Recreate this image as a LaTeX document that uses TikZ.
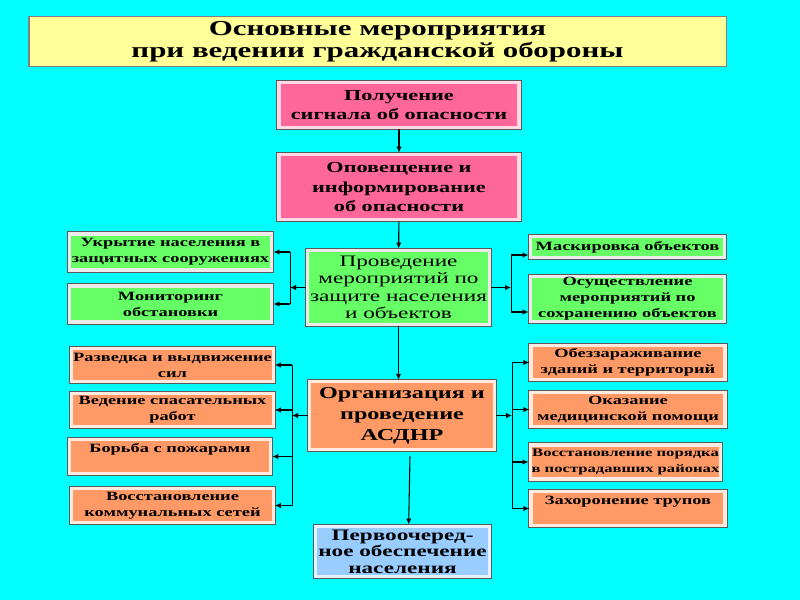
\documentclass[tikz,border=0pt]{standalone}
\usepackage{fontspec}
\setmainfont{Liberation Serif}[FakeStretch=1.45]
\usetikzlibrary{arrows.meta}

\definecolor{bgcyan}{RGB}{0,255,255}
\definecolor{titleyellow}{RGB}{255,255,153}
\definecolor{alarmpink}{RGB}{255,102,153}
\definecolor{protectgreen}{RGB}{102,255,102}
\definecolor{rescueorange}{RGB}{255,153,102}
\definecolor{supplyblue}{RGB}{153,204,255}

\begin{document}
\begin{tikzpicture}[x=0.75pt, y=-0.75pt,
  >={Latex[length=4.5pt,width=4pt]},
  frame/.style={preaction={draw=black!65, line width=3.8pt}, draw=#1, line width=2.4pt, align=center, inner sep=1pt},
  titlebox/.style={draw=black!50, line width=1pt, fill=titleyellow, align=center, font=\fontsize{16}{16.5}\selectfont\bfseries},
  pinkbox/.style={frame=alarmpink!25!white, fill=alarmpink, minimum width=180pt, font=\fontsize{11.5}{14.3}\selectfont\bfseries},
  greenbox/.style={frame=black!8, fill=protectgreen, font=\fontsize{9.5}{12}\selectfont\bfseries},
  orangebox/.style={frame=rescueorange!20!white, fill=rescueorange, font=\fontsize{9.5}{12}\selectfont\bfseries},
  bluebox/.style={frame=supplyblue!25!white, fill=supplyblue, font=\fontsize{12}{12.5}\selectfont\bfseries},
  link/.style={->, line width=0.8pt},
  bar/.style={line width=0.6pt}]
  \fill[bgcyan] (0,0) rectangle (800,600);

  \node[titlebox, minimum width=523pt, minimum height=34.5pt] (title) at (377.5,41.5)
    {Основные мероприятия\\при ведении гражданской обороны};

  \node[pinkbox, minimum height=34pt] (signal) at (399,105) {Получение\\сигнала об опасности};
  \node[pinkbox, minimum height=49pt] (warn) at (399,187) {Оповещение и\\информирование\\об опасности};

  \node[greenbox, minimum width=137pt, minimum height=56pt, font=\fontsize{12}{13}\selectfont] (protect) at (398.5,287.5)
    {Проведение\\мероприятий по\\защите населения\\и объектов};
  \node[greenbox, minimum width=152pt, minimum height=27pt] (cover) at (170.5,252) {Укрытие населения в\\защитных сооружениях};
  \node[greenbox, minimum width=152pt, minimum height=27pt] (monitor) at (170.5,304) {Мониторинг\\обстановки};
  \node[greenbox, minimum width=146pt, minimum height=16pt] (mask) at (627.5,247) {Маскировка объектов};
  \node[greenbox, minimum width=146pt, minimum height=33pt] (preserve) at (627.5,299) {Осуществление\\мероприятий по\\сохранению объектов};

  \node[orangebox, minimum width=139pt, minimum height=51pt, font=\fontsize{12.5}{15.75}\selectfont\bfseries] (rescue) at (402,415.5)
    {Организация и\\проведение\\АСДНР};
  \node[orangebox, minimum width=151pt, minimum height=25pt] (recon) at (172.5,365) {Разведка и выдвижение\\сил};
  \node[orangebox, minimum width=151pt, minimum height=25pt] (salvage) at (172.5,410) {Ведение спасательных\\работ};
  \node[orangebox, minimum width=151pt, minimum height=26pt, text depth=13pt] (fire) at (170,456.5) {Борьба с пожарами};
  \node[orangebox, minimum width=151pt, minimum height=26pt] (utility) at (172.5,505.5) {Восстановление\\коммунальных сетей};
  \node[orangebox, minimum width=145.5pt, minimum height=25pt] (decon) at (628,362.5) {Обеззараживание\\зданий и территорий};
  \node[orangebox, minimum width=145.5pt, minimum height=26pt] (medic) at (628,409.5) {Оказание\\медицинской помощи};
  \node[orangebox, minimum width=143pt, minimum height=25.5pt, inner xsep=0pt, font=\fontsize{8.6}{12}\selectfont\bfseries] (order) at (625.5,462)
    {Восстановление порядка\\в пострадавших районах};
  \node[orangebox, minimum width=145.5pt, minimum height=25pt, text depth=13pt] (burial) at (628,508.5) {Захоронение трупов};

  \node[bluebox, minimum width=131pt, minimum height=38pt] (supply) at (402.5,551.5) {Первоочеред-\\ное обеспечение\\населения};

  \coordinate (gl) at (290,0);
  \coordinate (gr) at (511,0);
  \coordinate (ol) at (292,0);
  \coordinate (or) at (512,0);

  \draw[link] (signal) -- (warn);
  \draw[link] (warn) -- (protect);
  \draw[link] (protect.south) -- (protect.south |- rescue.north);
  \draw[link] ([xshift=6pt,yshift=-4pt]rescue.south) -- ([xshift=5pt]rescue.south |- supply.north);

  \draw[link] (protect.west) -- (protect.west -| gl);
  \draw[bar] (cover.east -| gl) -- (monitor.east -| gl);
  \draw[link] (cover.east -| gl) -- (cover.east);
  \draw[link] (monitor.east -| gl) -- (monitor.east);

  \draw[link] (protect.east) -- (protect.east -| gr);
  \draw[bar] ([yshift=-6pt]mask.west -| gr) -- ([yshift=-9.75pt]preserve.west -| gr);
  \draw[link] ([yshift=-6pt]mask.west -| gr) -- ([yshift=-6pt]mask.west);
  \draw[link] ([yshift=-9.75pt]preserve.west -| gr) -- ([yshift=-9.75pt]preserve.west);

  \draw[link] (rescue.west) -- (rescue.west -| ol);
  \draw[bar] (recon.east -| ol) -- (utility.east -| ol);
  \foreach \n in {recon,salvage,fire,utility}
    \draw[link] (\n.east -| ol) -- (\n.east);

  \draw[link] (rescue.east) -- (rescue.east -| or);
  \draw[bar] (decon.west -| or) -- (burial.west -| or);
  \foreach \n in {decon,medic,order,burial}
    \draw[link] (\n.west -| or) -- (\n.west);
\end{tikzpicture}
\end{document}
